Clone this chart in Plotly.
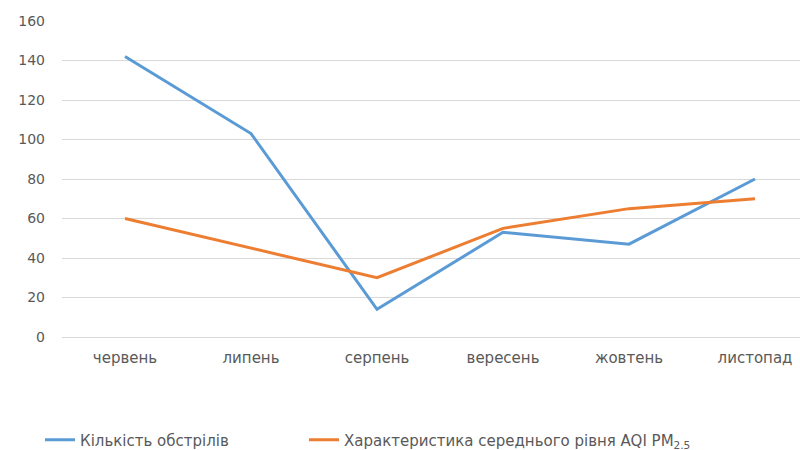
import plotly.graph_objects as go

months = ["червень", "липень", "серпень", "вересень", "жовтень", "листопад"]
shelling = [142, 103, 14, 53, 47, 80]
aqi = [60, 45, 30, 55, 65, 70]
y_ticks = [0, 20, 40, 60, 80, 100, 120, 140, 160]

fig = go.Figure()
fig.add_trace(go.Scatter(x=months, y=shelling, mode="lines", name="Кількість обстрілів",
                         line=dict(color="#5b9bd5", width=3), legend="legend"))
fig.add_trace(go.Scatter(x=months, y=aqi, mode="lines",
                         name="Характеристика середнього рівня AQI PM<sub>2.5</sub>",
                         line=dict(color="#ed7d31", width=3), legend="legend2"))

legend_font = dict(size=15, color="#595959", family="DejaVu Sans")

fig.update_layout(
    width=800, height=450,
    margin=dict(l=62, r=0, t=21, b=113),
    paper_bgcolor="white", plot_bgcolor="white",
    font=dict(family="DejaVu Sans", size=13, color="#595959"),
    xaxis=dict(type="category", range=[-0.5, 5.357], showgrid=False, showline=False,
               ticks="", ticklabelstandoff=10, tickfont=dict(size=15, color="#595959")),
    yaxis=dict(range=[0, 160], tickvals=y_ticks, showgrid=True, gridcolor="#d9d9d9",
               gridwidth=1, zeroline=True, zerolinecolor="#d9d9d9", zerolinewidth=1,
               showline=False, ticks="", ticklabelstandoff=16,
               tickfont=dict(size=14, color="#595959")),
    legend=dict(orientation="h", xref="container", x=0.05, xanchor="left",
                yref="container", y=0.022, yanchor="middle", font=legend_font),
    legend2=dict(orientation="h", xref="container", x=0.38, xanchor="left",
                 yref="container", y=0.022, yanchor="middle", font=legend_font),
    showlegend=True,
)

fig.write_html("out.html")
